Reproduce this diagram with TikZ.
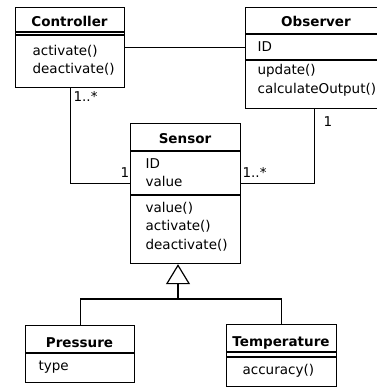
\documentclass[tikz,border=0pt]{standalone}
\usepackage{fontspec}
\setmainfont{DejaVu Sans}
\usetikzlibrary{arrows.meta}
\newcommand\umlsize{\fontsize{13.5}{16}\selectfont}
\tikzset{
  classbox/.style={draw, inner sep=0pt, anchor=north west},
  title/.style={font=\umlsize\bfseries, anchor=base, inner sep=0pt},
  member/.style={font=\umlsize, anchor=base west, inner sep=0pt},
  generalize/.style={-{Triangle[open, length=20pt, width=24pt]}}
}
\begin{document}
\begin{tikzpicture}[x=1pt, y=-1pt, line width=1.2pt]
\useasboundingbox (0,0) rectangle (376,387);
% class boxes
\node[classbox, minimum width=109pt, minimum height=80pt] (ctrl) at (15,7) {};
\node[classbox, minimum width=142pt, minimum height=101pt] (obs) at (245,7) {};
\node[classbox, minimum width=110pt, minimum height=140pt] (sens) at (130,123) {};
\node[classbox, minimum width=109pt, minimum height=57pt] (pres) at (25,325) {};
\node[classbox, minimum width=110pt, minimum height=62pt] (temp) at (226,324) {};
% compartments
\foreach \y in {32, 35} \draw (ctrl.west |- 0,\y) -- (ctrl.east |- 0,\y);
\foreach \y in {34, 60} \draw (obs.west |- 0,\y) -- (obs.east |- 0,\y);
\foreach \y in {151, 195} \draw (sens.west |- 0,\y) -- (sens.east |- 0,\y);
\draw (pres.west |- 0,353) -- (pres.east |- 0,353);
\foreach \y in {352, 357} \draw (temp.west |- 0,\y) -- (temp.east |- 0,\y);
% names
\node[title] (ctrlname) at (69.5,27) {Controller};
\node[title] (obsname) at (316,27) {Observer};
\node[title] (sensname) at (185,144) {Sensor};
\node[title] (presname) at (79.5,347) {Pressure};
\node[title] (tempname) at (281,346) {Temperature};
% members
\foreach \t/\y [count=\k] in {activate()/56, deactivate()/74}
  \node[member] (ctrlm\k) at (32,\y) {\t};
\foreach \t/\y [count=\k] in {ID/52, update()/75, calculateOutput()/94}
  \node[member] (obsm\k) at (257,\y) {\t};
\foreach \t/\y [count=\k] in {ID/168, value/186, value()/212, activate()/230, deactivate()/249}
  \node[member] (sensm\k) at (145,\y) {\t};
\node[member] (presm1) at (38,370) {type};
\node[member] (tempm1) at (242,374) {accuracy()};
% associations
\coordinate (sensl) at ([yshift=10pt]sens.west);
\coordinate (sensr) at ([yshift=10pt]sens.east);
\draw (ctrl.east) -- (ctrl.east -| obs.west);
\draw (ctrl.south) |- (sensl);
\draw ([xshift=-2pt]obs.south) |- (sensr);
\node[member] (ctrlmult) at (73,102) {1..*};
\node[member] (senslmult) at (120,177) {1};
\node[member] (obsmult) at (323,127) {1};
\node[member] (sensrmult) at (242,177) {1..*};
% generalization
\coordinate (fork) at (178,299);
\draw[generalize] (fork) -- (fork |- sens.south);
\draw (pres.north) |- (fork) -| (temp.north);
\end{tikzpicture}
\end{document}
